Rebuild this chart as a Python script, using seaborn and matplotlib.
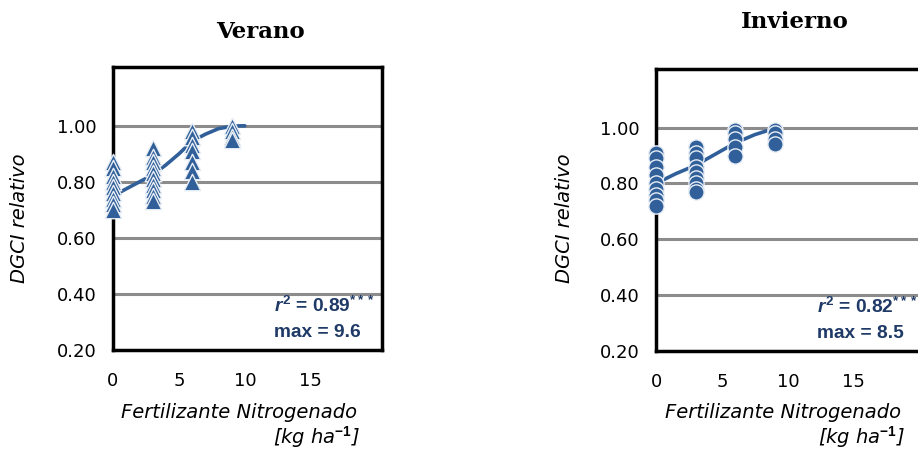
import matplotlib
matplotlib.use("Agg")
import matplotlib.pyplot as plt
import seaborn as sns
import pandas as pd

# Verano (summer) observations
ver_x = [0] * 9 + [3] * 10 + [6] * 7 + [9] * 4
ver_y = [0.87, 0.85, 0.82, 0.80, 0.78, 0.76, 0.74, 0.72, 0.70,
         0.92, 0.89, 0.87, 0.85, 0.83, 0.81, 0.79, 0.77, 0.75, 0.73,
         0.98, 0.96, 0.93, 0.91, 0.87, 0.84, 0.80,
         1.00, 0.98, 0.96, 0.95]
# fitted curve
ver_fit_x = [0, 1, 2, 3, 4, 5, 6, 7, 8, 9, 9.6, 10]
ver_fit_y = [0.75, 0.775, 0.80, 0.825, 0.86, 0.90, 0.945, 0.97, 0.99, 0.998, 1.0, 1.0]

# Invierno (winter) observations
inv_x = [0] * 9 + [3] * 9 + [6] * 5 + [9] * 4
inv_y = [0.91, 0.89, 0.86, 0.83, 0.80, 0.78, 0.76, 0.74, 0.72,
         0.93, 0.91, 0.89, 0.86, 0.84, 0.82, 0.80, 0.78, 0.77,
         0.99, 0.98, 0.96, 0.93, 0.90,
         0.99, 0.98, 0.96, 0.94]
inv_fit_x = [0, 1.5, 3, 4.5, 6, 7.5, 8.5, 9.2]
inv_fit_y = [0.80, 0.835, 0.865, 0.905, 0.945, 0.975, 0.99, 0.99]

titles = ["Verano", "Invierno"]
r2_labels = ["0.89", "0.82"]
max_labels = ["9.6", "8.5"]
y_ticks = [0.20, 0.40, 0.60, 0.80, 1.00]
x_ticks = [0, 5, 10, 15]

sns.set_style("white")
plt.rcParams["font.family"] = ["DejaVu Sans"]
plt.rcParams["text.color"] = "black"
plt.rcParams["mathtext.fontset"] = "custom"
plt.rcParams["mathtext.it"] = "Liberation Sans:italic:bold"
plt.rcParams["mathtext.rm"] = "Liberation Sans:bold"

blue = "#305f99"
navy = "#1f3a66"

fig = plt.figure(figsize=(9.18, 4.49), dpi=100)
ax1 = fig.add_axes([113 / 918, 1 - 350 / 449, 269 / 918, 283 / 449])
ax2 = fig.add_axes([656 / 918, 1 - 351 / 449, 269 / 918, 282 / 449])

panels = [
    (ax1, ver_x, ver_y, ver_fit_x, ver_fit_y, "^", 140),
    (ax2, inv_x, inv_y, inv_fit_x, inv_fit_y, "o", 120),
]

for i, (ax, xs, ys, fx, fy, mk, ms) in enumerate(panels):
    obs = pd.DataFrame({"N": xs, "DGCI": ys})
    fit = pd.DataFrame({"N": fx, "DGCI": fy})
    for yv in [0.40, 0.60, 0.80, 1.00]:
        ax.axhline(yv, color="#8c8c8c", lw=2.2, zorder=1)
    sns.lineplot(data=fit, x="N", y="DGCI", ax=ax, color=blue, lw=2.6, zorder=3)
    sns.scatterplot(data=obs, x="N", y="DGCI", ax=ax, marker=mk, s=ms,
                    color=blue, edgecolor="#e8eef6", linewidth=1.0, zorder=4,
                    clip_on=False)
    ax.set_xlim(0, 20.4)
    ax.set_ylim(0.2, 1.21)
    ax.set_xticks(x_ticks)
    ax.set_yticks(y_ticks)
    ax.set_yticklabels([f"{v:.2f}" for v in y_ticks])
    ax.tick_params(axis="both", direction="in", length=7, width=1.5,
                   labelsize=13, colors="black")
    ax.tick_params(axis="x", pad=16)
    ax.tick_params(axis="y", pad=12)
    ax.set_xlabel("")
    ax.set_ylabel("")
    for sp in ax.spines.values():
        sp.set_color("black")
        sp.set_linewidth(2.5)
        sp.set_visible(True)

    ax.text(12.2, 0.357, "$r^{2}$ = " + r2_labels[i] + "$^{\\mathrm{***}}$",
            color=navy, fontsize=13.8, fontweight="bold", va="center",
            family="Liberation Sans")
    ax.text(12.2, 0.264, "max = " + max_labels[i], color=navy, fontsize=13.8,
            fontweight="bold", va="center", family="Liberation Sans")

# titles
fig.text(260 / 918, 1 - 32 / 449, titles[0], ha="center", va="center",
         fontsize=16.5, fontweight="bold", family="DejaVu Serif", color="black")
fig.text(795 / 918, 1 - 22 / 449, titles[1], ha="center", va="center",
         fontsize=16.5, fontweight="bold", family="DejaVu Serif", color="black")

# y labels
for xp in [20, 565]:
    fig.text(xp / 918, 1 - 218 / 449, "DGCI relativo", rotation=90,
             ha="center", va="center", fontsize=14, style="italic", color="black")

# x labels
for cx, rx in [(239, 360), (783, 905)]:
    fig.text(cx / 918, 1 - 412 / 449, "Fertilizante Nitrogenado",
             ha="center", va="center", fontsize=14, style="italic", color="black")
    fig.text(rx / 918, 1 - 437 / 449, "[kg ha$^{-1}$]", ha="right",
             va="center", fontsize=14, style="italic", color="black")

fig.savefig("out.png", dpi=100)
